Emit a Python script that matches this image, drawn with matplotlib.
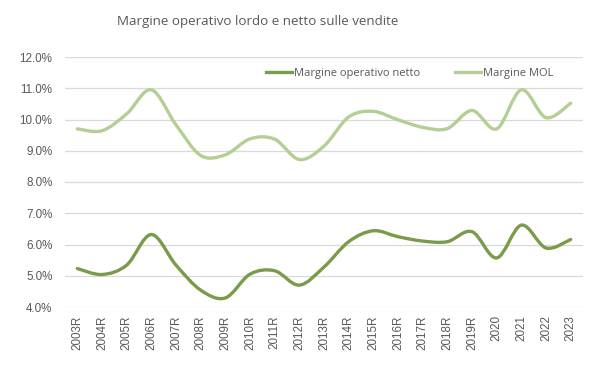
import matplotlib
matplotlib.use("Agg")
import matplotlib.pyplot as plt
import numpy as np
from matplotlib.path import Path
from matplotlib.patches import PathPatch
from matplotlib.lines import Line2D
from matplotlib.ticker import FuncFormatter

categories = ["2003R", "2004R", "2005R", "2006R", "2007R", "2008R", "2009R", "2010R",
              "2011R", "2012R", "2013R", "2014R", "2015R", "2016R", "2017R", "2018R",
              "2019R", "2020", "2021", "2022", "2023"]
netto = [5.23, 5.04, 5.34, 6.32, 5.34, 4.54, 4.29, 5.05, 5.16, 4.70, 5.28, 6.09, 6.44,
         6.25, 6.11, 6.09, 6.41, 5.57, 6.62, 5.89, 6.16]
mol = [9.70, 9.64, 10.18, 10.95, 9.83, 8.85, 8.87, 9.38, 9.37, 8.72, 9.15, 10.08, 10.26,
       9.99, 9.75, 9.71, 10.29, 9.70, 10.95, 10.06, 10.52]
series_names = ["Margine operativo netto", "Margine MOL"]
colors = ["#7A9B4A", "#B4CF95"]
title = "Margine operativo lordo e netto sulle vendite"

fig = plt.figure(figsize=(6.01, 3.91), dpi=100)
ax = fig.add_axes([65/601, 1-307/391, 518/601, 250/391])


def smooth_path(xs, ys):
    pts = np.column_stack([xs, ys]).astype(float)
    n = len(pts)
    verts = [pts[0]]
    codes = [Path.MOVETO]
    for i in range(n - 1):
        p0 = pts[i - 1] if i > 0 else pts[i]
        p1 = pts[i]
        p2 = pts[i + 1]
        p3 = pts[i + 2] if i + 2 < n else pts[i + 1]
        c1 = p1 + (p2 - p0) / 6.0
        c2 = p2 - (p3 - p1) / 6.0
        verts += [c1, c2, p2]
        codes += [Path.CURVE4] * 3
    return Path(verts, codes)


x = np.arange(len(categories))
for vals, col in zip([netto, mol], colors):
    patch = PathPatch(smooth_path(x, vals), facecolor="none", edgecolor=col,
                      lw=2.4, capstyle="round", joinstyle="round", zorder=3)
    ax.add_patch(patch)

ax.set_xlim(-0.5, len(categories) - 0.5)
ax.set_ylim(4.0, 12.0)
ax.set_yticks(np.arange(4, 12.01, 1.0))
ax.yaxis.set_major_formatter(FuncFormatter(lambda v, p: f"{v:.1f}%"))
ax.set_xticks(x)
ax.set_xticklabels(categories, rotation=90)
ax.grid(axis="y", color="#D9D9D9", lw=0.9)
ax.set_axisbelow(True)
for s in ax.spines.values():
    s.set_visible(False)
ax.tick_params(length=0, colors="#595959", labelsize=8.4)
ax.tick_params(axis="x", pad=6)
ax.tick_params(axis="y", pad=9)
for lab in ax.get_xticklabels() + ax.get_yticklabels():
    lab.set_family("Liberation Sans")
    lab.set_color("#595959")

handles = [Line2D([0], [0], color=c, lw=2.4) for c in colors]
leg = ax.legend(handles, series_names, ncol=2, loc="center",
                bbox_to_anchor=(0.665, 0.935), frameon=False, handlelength=2.4,
                handletextpad=0.15, columnspacing=3.1,
                prop={"family": "Open Sans", "size": 8.0})
for t in leg.get_texts():
    t.set_color("#595959")

fig.text(258/601, 1-22/391, title, ha="center", va="center", fontsize=9.6,
         family="Open Sans", color="#595959")

fig.savefig("out.png", dpi=100, facecolor="white")
